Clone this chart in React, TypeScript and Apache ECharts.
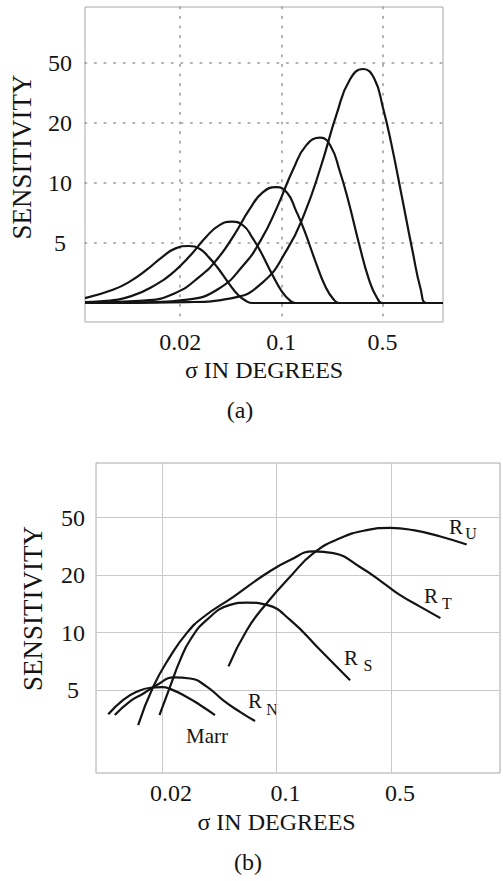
import React, { useEffect, useRef } from 'react';
import * as echarts from 'echarts';

// ---------- shared axis ticks ----------
const X_TICKS = [0.02, 0.1, 0.5];
const X_TICK_LABELS = ['0.02', '0.1', '0.5'];
const Y_LEVELS = [1, 2, 3, 4];
const Y_TICK_LABELS = ['5', '10', '20', '50'];

// ---------- panel (a): sigma in degrees, sensitivity level ----------
const A_SIGMA_RANGE = [0.0044, 1.31];
const A_LEVEL_RANGE = [-0.317, 4.933];

const A1_SIGMA = [0.0044, 0.00686, 0.00902, 0.0117, 0.0151, 0.0186, 0.0229, 0.0274, 0.0316, 0.036, 0.043, 0.0505, 0.0574, 0.0632, 1.31];
const A1_LEVEL = [0.08, 0.22, 0.36, 0.55, 0.77, 0.91, 0.95, 0.9, 0.76, 0.6, 0.34, 0.13, 0.03, 0, 0];

const A2_SIGMA = [0.0044, 0.00561, 0.00918, 0.0137, 0.018, 0.0234, 0.0302, 0.0372, 0.0455, 0.0548, 0.0632, 0.072, 0.086, 0.101, 0.115, 0.126, 1.31];
const A2_LEVEL = [0.016, 0.027, 0.115, 0.31, 0.515, 0.786, 1.1, 1.294, 1.355, 1.287, 1.084, 0.854, 0.488, 0.19, 0.04, 0, 0];

const A3_SIGMA = [0.0044, 0.0112, 0.0184, 0.0274, 0.0361, 0.0468, 0.0604, 0.0744, 0.0923, 0.11, 0.126, 0.144, 0.172, 0.202, 0.23, 0.253, 1.31];
const A3_LEVEL = [0.005, 0.039, 0.164, 0.444, 0.733, 1.12, 1.563, 1.843, 1.93, 1.834, 1.544, 1.216, 0.695, 0.27, 0.058, 0, 0];

const A4_SIGMA = [0.0044, 0.012, 0.0224, 0.0367, 0.0549, 0.0722, 0.0936, 0.121, 0.149, 0.186, 0.219, 0.253, 0.288, 0.344, 0.404, 0.459, 0.506, 1.31];
const A4_LEVEL = [0, 0.012, 0.055, 0.234, 0.634, 1.047, 1.598, 2.232, 2.631, 2.755, 2.617, 2.204, 1.736, 0.992, 0.386, 0.083, 0, 0];

const A5_SIGMA = [0.0044, 0.0224, 0.0449, 0.0734, 0.11, 0.144, 0.187, 0.242, 0.298, 0.368, 0.438, 0.506, 0.576, 0.688, 0.808, 0.918, 1.01, 1.31];
const A5_LEVEL = [0, 0.015, 0.078, 0.33, 0.897, 1.482, 2.262, 3.159, 3.725, 3.9, 3.744, 3.237, 2.652, 1.716, 0.858, 0.234, 0, 0];

// ---------- panel (b) ----------
const B_SIGMA_RANGE = [0.00791, 2.31];
const B_LEVEL_RANGE = [-0.443, 4.948];

const MARR_SIGMA = [0.0094, 0.0116, 0.014, 0.017, 0.02, 0.0224, 0.0283, 0.0341, 0.0421];
const MARR_LEVEL = [0.58, 0.83, 0.97, 1.04, 1.05, 1.02, 0.88, 0.74, 0.565];

const RN_SIGMA = [0.0103, 0.0127, 0.0154, 0.0186, 0.0235, 0.0297, 0.0375, 0.0473, 0.0598, 0.0739];
const RN_LEVEL = [0.565, 0.8, 0.94, 1.087, 1.22, 1.2, 1.06, 0.82, 0.62, 0.46];

const RS_SIGMA = [0.0193, 0.0224, 0.0258, 0.0297, 0.0375, 0.052, 0.0658, 0.0871, 0.121, 0.184, 0.281];
const RS_LEVEL = [0.565, 1.06, 1.52, 1.87, 2.22, 2.48, 2.52, 2.48, 2.22, 1.7, 1.17];

const RT_SIGMA = [0.0143, 0.0177, 0.0224, 0.0283, 0.0358, 0.0545, 0.0871, 0.121, 0.168, 0.222, 0.323, 0.449, 0.568, 0.751, 1.0];
const RT_LEVEL = [0.39, 1.06, 1.58, 1.99, 2.27, 2.62, 3.03, 3.26, 3.41, 3.38, 3.14, 2.86, 2.65, 2.45, 2.25];

const RU_SIGMA = [0.0509, 0.0658, 0.0871, 0.121, 0.168, 0.244, 0.355, 0.493, 0.684, 1.0, 1.446];
const RU_LEVEL = [1.41, 2.04, 2.51, 2.97, 3.38, 3.64, 3.78, 3.82, 3.78, 3.67, 3.53];

const FONT = 'Liberation Serif';
const INK = '#141414';

// axis coordinate: log base 5 of sigma relative to 0.1 deg
const pos = (s: number) => Math.log(s / 0.1) / Math.log(5);
const zip = (xs: number[], ys: number[]) => xs.map((x, i) => [pos(x), ys[i]]);

const xLabel = (v: number) => {
  const i = X_TICKS.findIndex((t) => Math.abs(pos(t) - v) < 1e-6);
  return i >= 0 ? X_TICK_LABELS[i] : '';
};
const yLabel = (v: number) => {
  const i = Y_LEVELS.findIndex((t) => Math.abs(t - v) < 1e-6);
  return i >= 0 ? Y_TICK_LABELS[i] : '';
};

const curve = (name: string, xs: number[], ys: number[], idx: number) => ({
  name,
  type: 'line',
  xAxisIndex: idx,
  yAxisIndex: idx,
  data: zip(xs, ys),
  showSymbol: false,
  symbol: 'none',
  smooth: 0.5,
  silent: true,
  lineStyle: { color: INK, width: 2.2 },
  emphasis: { disabled: true },
});

const textEl = (text: string, x: number, y: number, size: number) => ({
  type: 'text',
  x,
  y,
  silent: true,
  style: {
    text,
    x: 0,
    y: 0,
    fill: INK,
    fontFamily: FONT,
    fontSize: size,
    align: 'center',
    verticalAlign: 'middle',
  },
});

export default function App() {
  const ref = useRef<HTMLDivElement>(null);

  useEffect(() => {
    if (!ref.current) return;
    const chart = echarts.init(ref.current, null, { renderer: 'svg' });

    const xTickVals = X_TICKS.map(pos);
    const dottedA = { color: '#9a9a9a', width: 1.6, type: [1.6, 8] as any, cap: 'round' };
    const solidB = { color: '#c9c9c9', width: 1, type: 'solid' };

    const xAxisBase = (gridIndex: number, range: number[], lineStyle: any, nameGap: number, namePad: number[], labelPad: number[]) => ({
      type: 'value',
      gridIndex,
      min: pos(range[0]),
      max: pos(range[1]),
      name: 'σ IN DEGREES',
      nameLocation: 'middle',
      nameGap,
      nameTextStyle: { fontFamily: FONT, fontSize: 24, color: INK, padding: namePad },
      axisLine: { show: false, onZero: false },
      axisTick: { show: false, customValues: xTickVals },
      axisLabel: {
        customValues: xTickVals,
        formatter: xLabel,
        fontFamily: FONT,
        fontSize: 24,
        color: INK,
        margin: 8,
        padding: labelPad,
      },
      splitLine: { show: true, lineStyle },
    });

    const yAxisBase = (gridIndex: number, range: number[], lineStyle: any, nameGap: number, namePad: number[], margin: number, labelPad: number[]) => ({
      type: 'value',
      gridIndex,
      min: range[0],
      max: range[1],
      name: 'SENSITIVITY',
      nameLocation: 'middle',
      nameGap,
      nameTextStyle: { fontFamily: FONT, fontSize: 27, color: INK, padding: namePad },
      axisLine: { show: false, onZero: false },
      axisTick: { show: false, customValues: Y_LEVELS },
      axisLabel: {
        customValues: Y_LEVELS,
        formatter: yLabel,
        fontFamily: FONT,
        fontSize: 24,
        color: INK,
        align: 'center',
        margin,
        padding: labelPad,
      },
      splitLine: { show: true, lineStyle },
    });

    const option: any = {
      animation: false,
      backgroundColor: '#ffffff',
      textStyle: { fontFamily: FONT },
      grid: [
        { left: 82, top: 7, width: 361, height: 315, show: true, borderColor: '#a8a8a8', borderWidth: 1, backgroundColor: 'transparent' },
        { left: 96, top: 463, width: 404, height: 310, show: true, borderColor: '#a8a8a8', borderWidth: 1, backgroundColor: 'transparent' },
      ],
      xAxis: [
        xAxisBase(0, A_SIGMA_RANGE, dottedA, 36, [0, 0, 0, 0], [0, 0, 0, 0]),
        xAxisBase(1, B_SIGMA_RANGE, solidB, 37, [0, 43, 0, 0], [0, 0, 0, 18]),
      ],
      yAxis: [
        yAxisBase(0, A_LEVEL_RANGE, dottedA, 50, [0, 0, 0, 15], 25, [0, 0, 0, 0]),
        yAxisBase(1, B_LEVEL_RANGE, solidB, 50, [0, 0, 0, 19], 23, [12, 0, 0, 0]),
      ],
      series: [
        curve('a1', A1_SIGMA, A1_LEVEL, 0),
        curve('a2', A2_SIGMA, A2_LEVEL, 0),
        curve('a3', A3_SIGMA, A3_LEVEL, 0),
        curve('a4', A4_SIGMA, A4_LEVEL, 0),
        curve('a5', A5_SIGMA, A5_LEVEL, 0),
        curve('Marr', MARR_SIGMA, MARR_LEVEL, 1),
        curve('RN', RN_SIGMA, RN_LEVEL, 1),
        curve('RS', RS_SIGMA, RS_LEVEL, 1),
        curve('RT', RT_SIGMA, RT_LEVEL, 1),
        curve('RU', RU_SIGMA, RU_LEVEL, 1),
      ],
      graphic: [
        textEl('(a)', 240, 410, 24),
        textEl('(b)', 248, 862, 24),
        textEl('R', 456, 527, 21),
        textEl('U', 471, 533, 16),
        textEl('R', 431, 596, 21),
        textEl('T', 447, 603, 16),
        textEl('R', 351, 658, 21),
        textEl('S', 368, 665, 16),
        textEl('R', 255, 701, 21),
        textEl('N', 272, 709, 16),
        textEl('Marr', 207, 736, 21),
      ],
    };

    chart.setOption(option);
    return () => chart.dispose();
  }, []);

  return <div ref={ref} style={{ position: 'absolute', left: 0, top: 0, width: 503, height: 881 }} />;
}
